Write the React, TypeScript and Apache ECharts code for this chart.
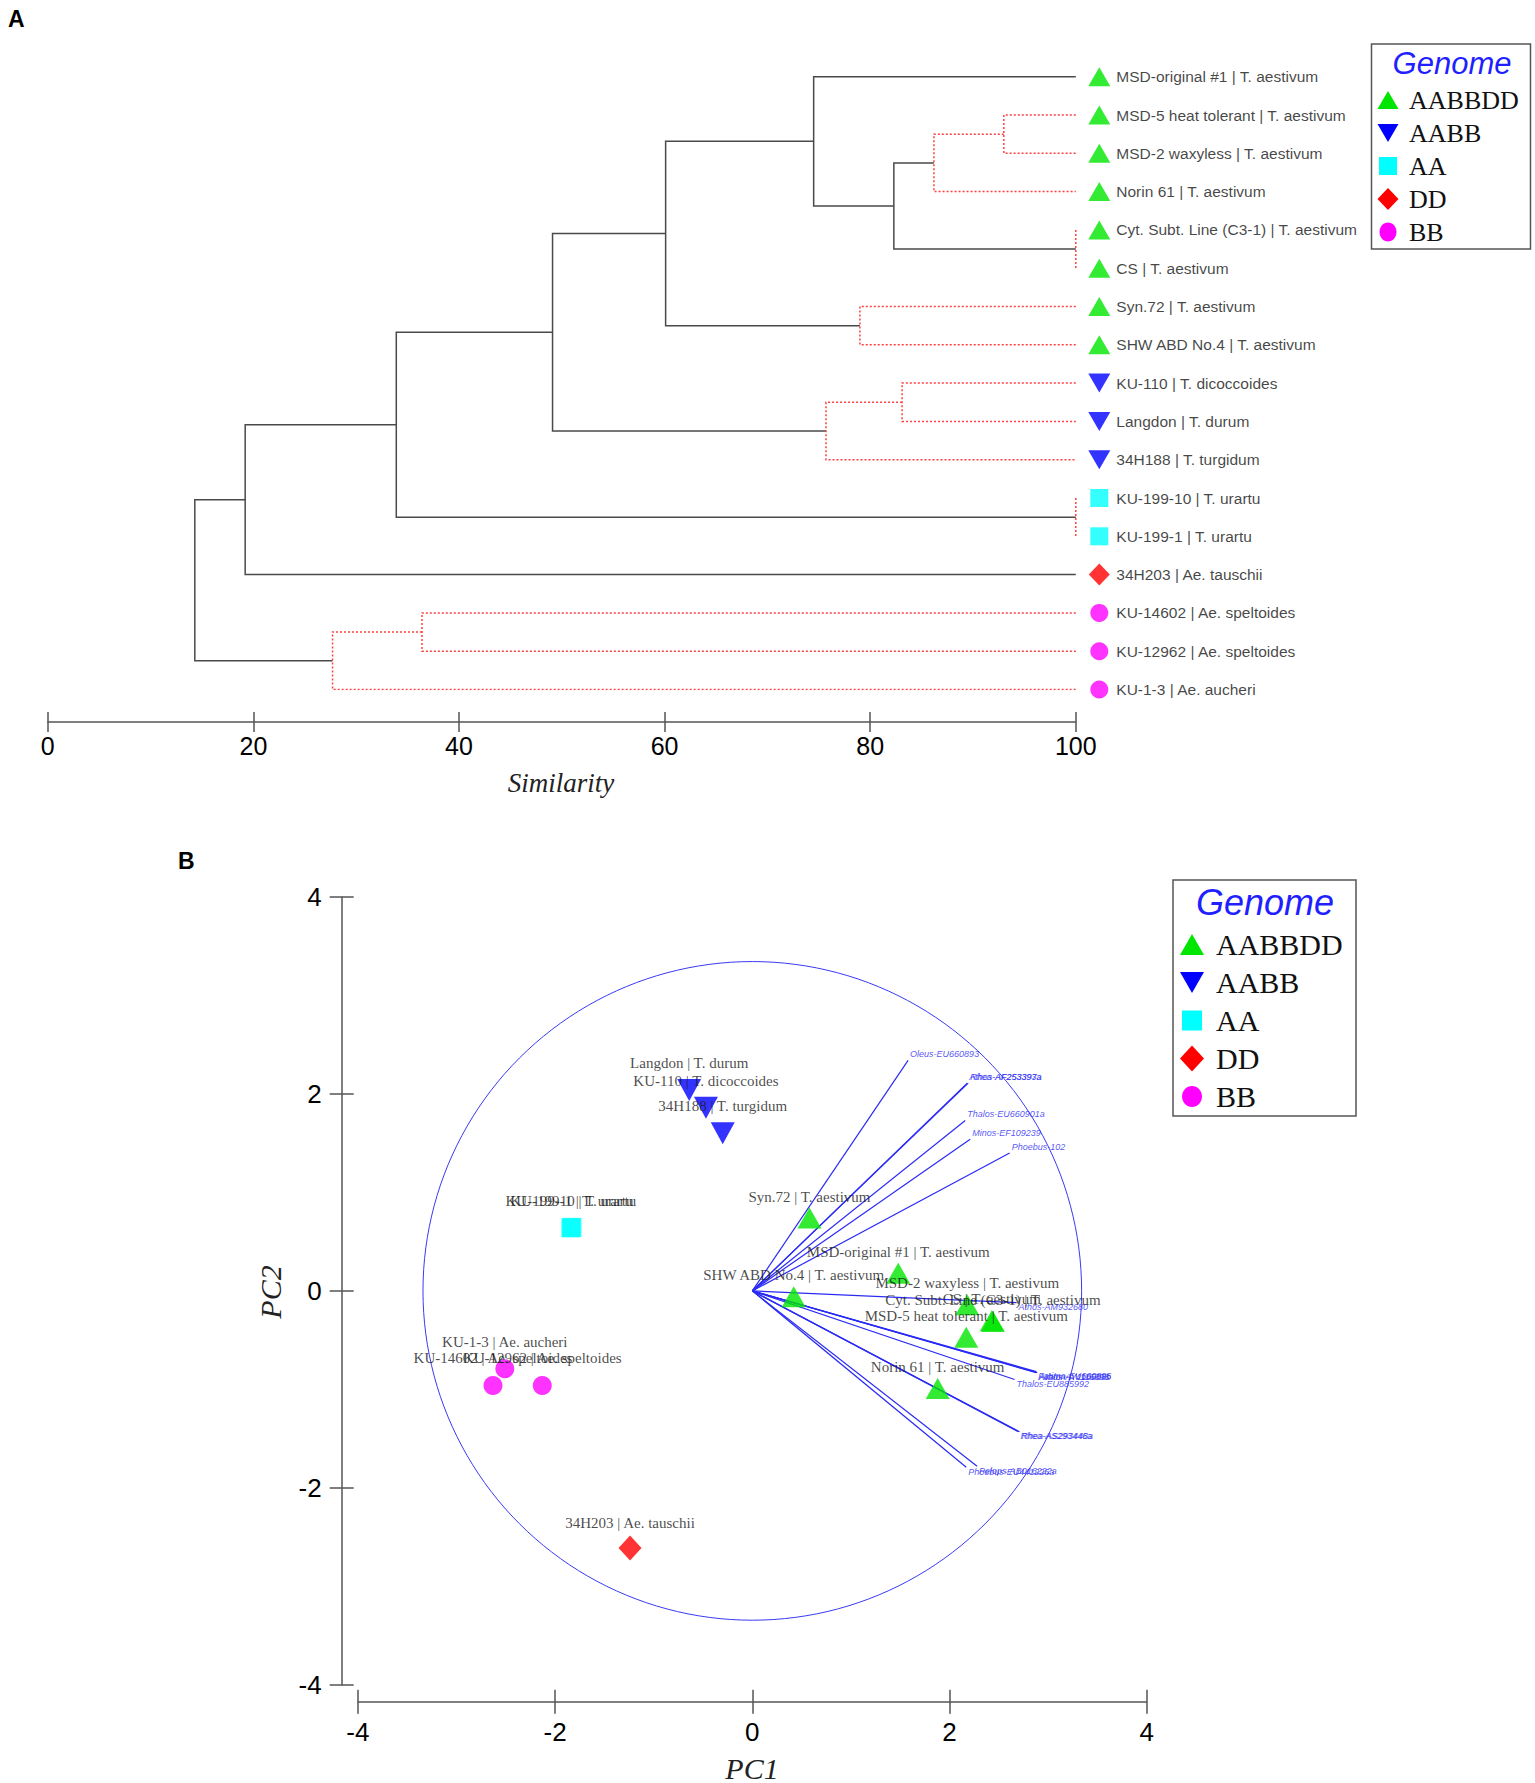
import React, { useEffect, useRef } from "react";
import * as echarts from "echarts";

// ---------------- data ----------------
const leafNames = [
  "MSD-original #1 | T. aestivum",
  "MSD-5 heat tolerant | T. aestivum",
  "MSD-2 waxyless | T. aestivum",
  "Norin 61 | T. aestivum",
  "Cyt. Subt. Line (C3-1) | T. aestivum",
  "CS | T. aestivum",
  "Syn.72 | T. aestivum",
  "SHW ABD No.4 | T. aestivum",
  "KU-110 | T. dicoccoides",
  "Langdon | T. durum",
  "34H188 | T. turgidum",
  "KU-199-10 | T. urartu",
  "KU-199-1 | T. urartu",
  "34H203 | Ae. tauschii",
  "KU-14602 | Ae. speltoides",
  "KU-12962 | Ae. speltoides",
  "KU-1-3 | Ae. aucheri",
];
const leafGenome = [
  "AABBDD", "AABBDD", "AABBDD", "AABBDD", "AABBDD", "AABBDD", "AABBDD", "AABBDD",
  "AABB", "AABB", "AABB", "AA", "AA", "DD", "BB", "BB", "BB",
];
// cluster merges (node ids: leaves 0..16, merges 17..)
const mergeA = [1, 17, 4, 18, 0, 6, 21, 8, 24, 23, 11, 26, 28, 14, 30, 29];
const mergeB = [2, 3, 5, 19, 20, 7, 22, 9, 10, 25, 12, 27, 13, 15, 16, 31];
const mergeSimilarity = [93.0, 86.2, 100, 82.3, 74.5, 79.0, 60.1, 83.1, 75.7, 49.1, 100, 33.9, 19.2, 36.4, 27.7, 14.3];
const mergeDotted = [true, true, true, false, false, true, false, true, true, false, true, false, false, true, true, false];

// PCA scores (same order as leafNames)
const pcaX = [1.48, 2.17, 2.18, 1.88, 2.44, 2.43, 0.58, 0.42, -0.47, -0.64, -0.30, -1.84, -1.83, -1.24, -2.63, -2.13, -2.51];
const pcaY = [0.18, -0.47, -0.14, -0.99, -0.31, -0.30, 0.74, -0.06, 1.86, 2.04, 1.60, 0.64, 0.645, -2.61, -0.96, -0.96, -0.79];

// loading vectors
const vectorNames = [
  "Oleus-EU660893", "Athos-AF253397a", "Rhea-AF253393a", "Thalos-EU660901a", "Minos-EF109239",
  "Phoebus-102", "Athos-AM932680", "Avalon-AY116698", "Athos-AY116686b", "Fatima-EU660896",
  "Thalos-EU885992", "Rhea-AS293446a", "Rhea-AS293448a", "Phoebus-EU441226a", "Pelops-AB016222a",
];
const vectorX = [1.58, 2.18, 2.19, 2.16, 2.21, 2.61, 2.68, 2.88, 2.89, 2.88, 2.66, 2.70, 2.71, 2.17, 2.28];
const vectorY = [2.34, 2.11, 2.11, 1.73, 1.54, 1.40, -0.12, -0.83, -0.83, -0.82, -0.90, -1.43, -1.43, -1.79, -1.78];
const circleRadius = 3.34;

const genomeNames = ["AABBDD", "AABB", "AA", "DD", "BB"];

// ---------------- style ----------------
const SANS = "'Liberation Sans', Arial, sans-serif";
const SERIF = "'Liberation Serif', 'Times New Roman', serif";
const AXIS = "#555555";
const VEC = "#2a2af5";
const genomeColor: Record<string, string> = {
  AABBDD: "#00e600",
  AABB: "#0000ff",
  AA: "#00ffff",
  DD: "#ff0000",
  BB: "#ff00ff",
};
const DOWN_TRI = "path://M0,0L20,0L10,18Z";
const genomeSymbol: Record<string, string> = {
  AABBDD: "triangle",
  AABB: DOWN_TRI,
  AA: "rect",
  DD: "diamond",
  BB: "circle",
};
const sizeA: Record<string, number[]> = {
  AABBDD: [22, 19], AABB: [22, 19], AA: [18, 18], DD: [21, 22], BB: [18, 18],
};
const labelDistA: Record<string, number> = {
  AABBDD: 6, AABB: 6, AA: 8, DD: 6.5, BB: 8,
};
const sizeB: Record<string, number[]> = {
  AABBDD: [24, 21], AABB: [24, 22], AA: [19, 19], DD: [23, 25], BB: [19, 19],
};
const labelDistB: Record<string, number> = {
  AABBDD: 3.5, AABB: 8.5, AA: 9.5, DD: 5, BB: 10,
};

function buildTree() {
  const xs: number[] = leafNames.map(() => 100);
  const ys: number[] = leafNames.map((_, i) => i);
  const solid: any[] = [];
  const dotted: any[] = [];
  mergeA.forEach((a, k) => {
    const b = mergeB[k];
    const s = mergeSimilarity[k];
    const y = (ys[a] + ys[b]) / 2;
    const coords = [
      [xs[a], ys[a]],
      [s, ys[a]],
      [s, ys[b]],
      [xs[b], ys[b]],
    ];
    xs.push(s);
    ys.push(y);
    (mergeDotted[k] ? dotted : solid).push({ coords });
  });
  return { solid, dotted };
}

function legendSymbol(g: string, cx: number, cy: number, w: number, h: number) {
  const fill = genomeColor[g];
  if (g === "AABBDD")
    return { type: "polygon", shape: { points: [[cx, cy - h / 2], [cx + w / 2, cy + h / 2], [cx - w / 2, cy + h / 2]] }, style: { fill } };
  if (g === "AABB")
    return { type: "polygon", shape: { points: [[cx - w / 2, cy - h / 2], [cx + w / 2, cy - h / 2], [cx, cy + h / 2]] }, style: { fill } };
  if (g === "AA")
    return { type: "rect", shape: { x: cx - w / 2, y: cy - h / 2, width: w, height: h }, style: { fill } };
  if (g === "DD")
    return { type: "polygon", shape: { points: [[cx, cy - h / 2], [cx + w / 2, cy], [cx, cy + h / 2], [cx - w / 2, cy]] }, style: { fill } };
  return { type: "ellipse", shape: { cx, cy, rx: w / 2, ry: h / 2 }, style: { fill } };
}

function textEl(text: string, x: number, y: number, opts: any) {
  return {
    type: "text",
    x,
    y,
    rotation: opts.rotation || 0,
    style: {
      text,
      fill: opts.fill || "#000",
      fontSize: opts.fontSize,
      fontFamily: opts.fontFamily || SANS,
      fontStyle: opts.fontStyle || "normal",
      fontWeight: opts.fontWeight || "normal",
      align: opts.align || "center",
      verticalAlign: "middle",
      textAlign: opts.align || "center",
      textVerticalAlign: "middle",
    },
  };
}

function legendGroup(L: any) {
  const els: any[] = [];
  els.push({
    type: "rect",
    shape: { x: L.x, y: L.y, width: L.w, height: L.h },
    style: { fill: "#fff", stroke: AXIS, lineWidth: 1.5 },
  });
  els.push(textEl("Genome", L.titleX, L.titleY, { fontSize: L.titleSize, fontStyle: "italic", fill: "#1f1fff" }));
  genomeNames.forEach((g, i) => {
    const cy = L.itemY0 + i * L.step;
    const sz = L.sym[g];
    els.push(legendSymbol(g, L.symX, cy, sz[0], sz[1]));
    els.push(textEl(g, L.textX, cy, { fontSize: L.textSize, fontFamily: SERIF, align: "left", fill: "#111" }));
  });
  return els;
}

function xAxisPair(gridIndex: number, min: number, max: number, interval: number, offset: number, tickLen: number, fontSize: number, margin: number) {
  const base = {
    gridIndex,
    type: "value",
    min,
    max,
    interval,
    position: "bottom",
    offset,
    splitLine: { show: false },
    silent: true,
  };
  return [
    {
      ...base,
      axisLine: { show: true, onZero: false, lineStyle: { color: AXIS, width: 1.5 } },
      axisTick: { show: true, inside: false, length: tickLen, lineStyle: { color: AXIS, width: 1.5 } },
      axisLabel: { show: true, fontSize, color: "#000", fontFamily: SANS, margin },
    },
    {
      ...base,
      axisLine: { show: false, onZero: false },
      axisTick: { show: true, inside: true, length: tickLen, lineStyle: { color: AXIS, width: 1.5 } },
      axisLabel: { show: false },
    },
  ];
}

function buildOption() {
  const tree = buildTree();

  const leafData = leafNames.map((name, i) => {
    const g = leafGenome[i];
    return {
      name,
      value: [100, i],
      symbol: genomeSymbol[g],
      symbolSize: sizeA[g],
      itemStyle: { color: genomeColor[g] },
      label: { distance: labelDistA[g] },
    };
  });

  const pointData = leafNames.map((name, i) => {
    const g = leafGenome[i];
    return {
      name,
      value: [pcaX[i], pcaY[i]],
      symbol: genomeSymbol[g],
      symbolSize: sizeB[g],
      itemStyle: { color: genomeColor[g] },
      label: { distance: labelDistB[g] },
    };
  });

  const vectorLines = vectorNames.map((_, i) => ({ coords: [[0, 0], [vectorX[i], vectorY[i]]] }));
  const vectorLabels = vectorNames.map((name, i) => ({
    name,
    value: [vectorX[i], vectorY[i]],
    label: { offset: [0, vectorY[i] >= 0 ? -6.5 : 4.5] },
  }));

  const graphic = [
    textEl("A", 8, 19, { fontSize: 23, fontWeight: "bold", align: "left" }),
    textEl("B", 178, 861, { fontSize: 23, fontWeight: "bold", align: "left" }),
    textEl("Similarity", 561, 783, { fontSize: 27, fontFamily: SERIF, fontStyle: "italic", fill: "#222" }),
    textEl("PC1", 752, 1768, { fontSize: 30, fontFamily: SERIF, fontStyle: "italic", fill: "#222" }),
    textEl("PC2", 270, 1292, { fontSize: 30, fontFamily: SERIF, fontStyle: "italic", fill: "#222", rotation: Math.PI / 2 }),
    ...legendGroup({
      x: 1371.5, y: 44, w: 159, h: 205,
      titleX: 1452, titleY: 63, titleSize: 31,
      itemY0: 100, step: 33, symX: 1388, textX: 1409, textSize: 26,
      sym: { AABBDD: [21, 18], AABB: [21, 18], AA: [18, 18], DD: [21, 22], BB: [17, 19] },
    }),
    ...legendGroup({
      x: 1173, y: 880, w: 183, h: 236,
      titleX: 1265, titleY: 902, titleSize: 36,
      itemY0: 944.5, step: 38, symX: 1192, textX: 1216, textSize: 30,
      sym: { AABBDD: [24, 21], AABB: [24, 21], AA: [20, 20], DD: [24, 26], BB: [20, 21] },
    }),
  ];

  return {
    animation: false,
    textStyle: { fontFamily: SANS },
    grid: [
      { left: 47.8, top: 76.7, width: 1028, height: 612.8 },
      { left: 357.9, top: 896.9, width: 788.8, height: 788 },
    ],
    xAxis: [
      ...xAxisPair(0, 0, 100, 20, 32.5, 10, 25, 11.5),
      ...xAxisPair(1, -4, 4, 2, 16.8, 12, 26, 17),
    ],
    yAxis: [
      { gridIndex: 0, type: "value", min: 0, max: 16, inverse: true, show: false },
      {
        gridIndex: 1, type: "value", min: -4, max: 4, interval: 2, position: "left", offset: 16.2,
        splitLine: { show: false },
        axisLine: { show: true, onZero: false, lineStyle: { color: AXIS, width: 1.5 } },
        axisTick: { show: true, inside: false, length: 12, lineStyle: { color: AXIS, width: 1.5 } },
        axisLabel: { show: true, fontSize: 26, color: "#000", fontFamily: SANS, margin: 20 },
      },
      {
        gridIndex: 1, type: "value", min: -4, max: 4, interval: 2, position: "left", offset: 16.2,
        splitLine: { show: false },
        axisLine: { show: false, onZero: false },
        axisTick: { show: true, inside: true, length: 12, lineStyle: { color: AXIS, width: 1.5 } },
        axisLabel: { show: false },
      },
    ],
    graphic,
    series: [
      {
        type: "lines",
        coordinateSystem: "cartesian2d",
        xAxisIndex: 0,
        yAxisIndex: 0,
        polyline: true,
        silent: true,
        data: tree.solid,
        lineStyle: { color: "#4a4a4a", width: 1.5, opacity: 1 },
      },
      {
        type: "lines",
        coordinateSystem: "cartesian2d",
        xAxisIndex: 0,
        yAxisIndex: 0,
        polyline: true,
        silent: true,
        data: tree.dotted,
        lineStyle: { color: "#ff4040", width: 1.5, opacity: 1, type: [2, 2] },
      },
      {
        type: "scatter",
        xAxisIndex: 0,
        yAxisIndex: 0,
        silent: true,
        clip: false,
        symbolOffset: [23.5, 0],
        data: leafData,
        label: {
          show: true,
          position: "right",
          formatter: "{b}",
          fontSize: 15.5,
          color: "#141414",
          fontFamily: SANS,
        },
      },
      {
        type: "custom",
        xAxisIndex: 2,
        yAxisIndex: 1,
        silent: true,
        data: [[0, 0]],
        renderItem: (_p: any, api: any) => {
          const c = api.coord([api.value(0), api.value(1)]);
          const r = api.size([circleRadius, 0])[0];
          return {
            type: "circle",
            shape: { cx: c[0], cy: c[1], r },
            style: { fill: "none", stroke: "#3a3af5", lineWidth: 1 },
          };
        },
      },
      {
        type: "lines",
        coordinateSystem: "cartesian2d",
        xAxisIndex: 2,
        yAxisIndex: 1,
        silent: true,
        data: vectorLines,
        lineStyle: { color: VEC, width: 1.2, opacity: 1 },
      },
      {
        type: "scatter",
        xAxisIndex: 2,
        yAxisIndex: 1,
        silent: true,
        clip: false,
        symbolSize: 1,
        itemStyle: { color: "rgba(0,0,0,0)" },
        data: vectorLabels,
        label: {
          show: true,
          position: "right",
          distance: 1.5,
          formatter: "{b}",
          fontSize: 9,
          fontStyle: "italic",
          color: VEC,
          fontFamily: SANS,
        },
      },
      {
        type: "scatter",
        xAxisIndex: 2,
        yAxisIndex: 1,
        silent: true,
        clip: false,
        data: pointData,
        label: {
          show: true,
          position: "top",
          formatter: "{b}",
          fontSize: 15,
          color: "#1a1a1a",
          fontFamily: SERIF,
        },
      },
    ],
  };
}

export default function App() {
  const ref = useRef<HTMLDivElement>(null);
  useEffect(() => {
    document.body.style.margin = "0";
    if (!ref.current) return;
    const chart = echarts.init(ref.current, undefined, { renderer: "svg" });
    chart.setOption(buildOption() as any);
    return () => chart.dispose();
  }, []);
  return <div ref={ref} style={{ width: 1535, height: 1783, background: "#fff" }} />;
}
